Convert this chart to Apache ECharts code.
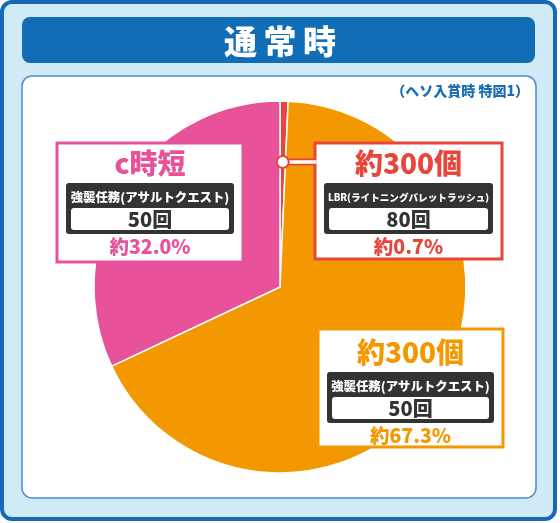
<!DOCTYPE html>
<html><head><meta charset="utf-8">
<script src="https://cdn.jsdelivr.net/npm/echarts@6/dist/echarts.min.js"></script>
<style>html,body{margin:0;padding:0;background:#fff}#c{width:560px;height:523px}</style>
</head><body><div id="c"></div>
<script>
// ---- data ----
const titleText = '通常時';
const noteText = '（ヘソ入賞時 特図1）';
const sliceKeys = ['LBR', 'assault', 'jitan'];
const shares = [0.7, 67.3, 32.0];
const boxTitles = ['約300個', '約300個', 'c時短'];
const modeNames = ['LBR(ライトニングバレットラッシュ)', '強襲任務(アサルトクエスト)', '強襲任務(アサルトクエスト)'];
const spinCounts = ['80回', '50回', '50回'];

// ---- style / layout ----
const colors = ['#e8453c', '#f39800', '#e8529a'];
const FONT = '"Noto Sans CJK JP", "Noto Sans", sans-serif';
const CX = 280, CY = 287, R = 186;
const boxes = [
  {x: 315, y: 143, w: 187, h: 116, dy: 0, modeSize: 9.6},
  {x: 318, y: 329, w: 185, h: 118, dy: 3, modeSize: 12.4},
  {x: 57, y: 143, w: 186, h: 119, dy: 0, modeSize: 12.4}
];

function labelBox(i) {
  const b = boxes[i], c = colors[i], x = b.x, y = b.y + b.dy, w = b.w;
  return {
    type: 'group', z: 10, children: [
      {type: 'rect', shape: {x: b.x, y: b.y, width: b.w, height: b.h}, style: {fill: '#fff', stroke: c, lineWidth: 3}, z: 10},
      {type: 'text', x: x + w / 2, y: y + 20, z: 11, style: {text: boxTitles[i], fill: c, font: '900 28px ' + FONT, align: 'center', verticalAlign: 'middle'}},
      {type: 'rect', shape: {x: x + 9, y: y + 40, width: w - 18, height: 51, r: 3}, style: {fill: '#333333'}, z: 11},
      {type: 'text', x: x + w / 2, y: y + 54, z: 12, style: {text: modeNames[i], fill: '#fff', font: '900 ' + b.modeSize + 'px ' + FONT, align: 'center', verticalAlign: 'middle'}},
      {type: 'rect', shape: {x: x + 14, y: y + 65, width: w - 28, height: 22, r: 3}, style: {fill: '#fff'}, z: 12},
      {type: 'text', x: x + w / 2, y: y + 76.5, z: 13, style: {text: spinCounts[i], fill: '#333', font: '900 20px ' + FONT, align: 'center', verticalAlign: 'middle'}},
      {type: 'text', x: x + w / 2, y: y + 104, z: 11, style: {text: '約' + shares[i].toFixed(1) + '%', fill: c, font: '900 19.5px ' + FONT, align: 'center', verticalAlign: 'middle'}}
    ]
  };
}

// connector point from the slice's mid angle
const total = shares.reduce((a, b) => a + b, 0);
const midAng = (shares[0] / 2) / total * 2 * Math.PI;
const px = CX + R * 0.672 * Math.sin(midAng);
const py = CY - R * 0.672 * Math.cos(midAng);

const chart = echarts.init(document.getElementById('c'), null, {renderer: 'canvas'});
chart.setOption({
  animation: false,
  backgroundColor: '#fff',
  graphic: [
    {type: 'rect', z: 0, shape: {x: 2, y: 2, width: 553, height: 517, r: 10}, style: {fill: '#d0eaf8', stroke: '#1769b5', lineWidth: 4}},
    {type: 'rect', z: 0, shape: {x: 22, y: 17, width: 513, height: 46, r: 8}, style: {fill: '#106db6'}},
    {type: 'text', z: 1, x: 280, y: 41, style: {text: titleText.split('').join('\u2009'), fill: '#fff', font: '900 33px ' + FONT, align: 'center', verticalAlign: 'middle', textShadowColor: 'rgba(110,30,50,0.85)', textShadowOffsetX: 1, textShadowOffsetY: 1, textShadowBlur: 0}},
    {type: 'rect', z: 0, shape: {x: 22, y: 76, width: 514, height: 422, r: 10}, style: {fill: '#fff', stroke: '#4d8ccf', lineWidth: 1.5}},
    {type: 'text', z: 1, x: 529, y: 91, style: {text: noteText, fill: '#1a6cb5', font: '900 14px ' + FONT, align: 'right', verticalAlign: 'middle'}},
    labelBox(2), labelBox(1), labelBox(0),
    {type: 'line', z: 12, shape: {x1: px, y1: py, x2: boxes[0].x, y2: py}, style: {stroke: colors[0], lineWidth: 7}},
    {type: 'line', z: 13, shape: {x1: px, y1: py, x2: boxes[0].x + 1.5, y2: py}, style: {stroke: '#fff', lineWidth: 3.5}},
    {type: 'circle', z: 14, shape: {cx: px, cy: py, r: 6}, style: {fill: '#fff', stroke: colors[0], lineWidth: 2}}
  ],
  series: [{
    type: 'pie',
    silent: true,
    center: [CX, CY],
    radius: R,
    startAngle: 90,
    clockwise: true,
    label: {show: false},
    labelLine: {show: false},
    itemStyle: {borderColor: '#fff', borderWidth: 1.5},
    data: sliceKeys.map((k, i) => ({name: k, value: shares[i], itemStyle: {color: colors[i]}}))
  }]
});
</script></body></html>
